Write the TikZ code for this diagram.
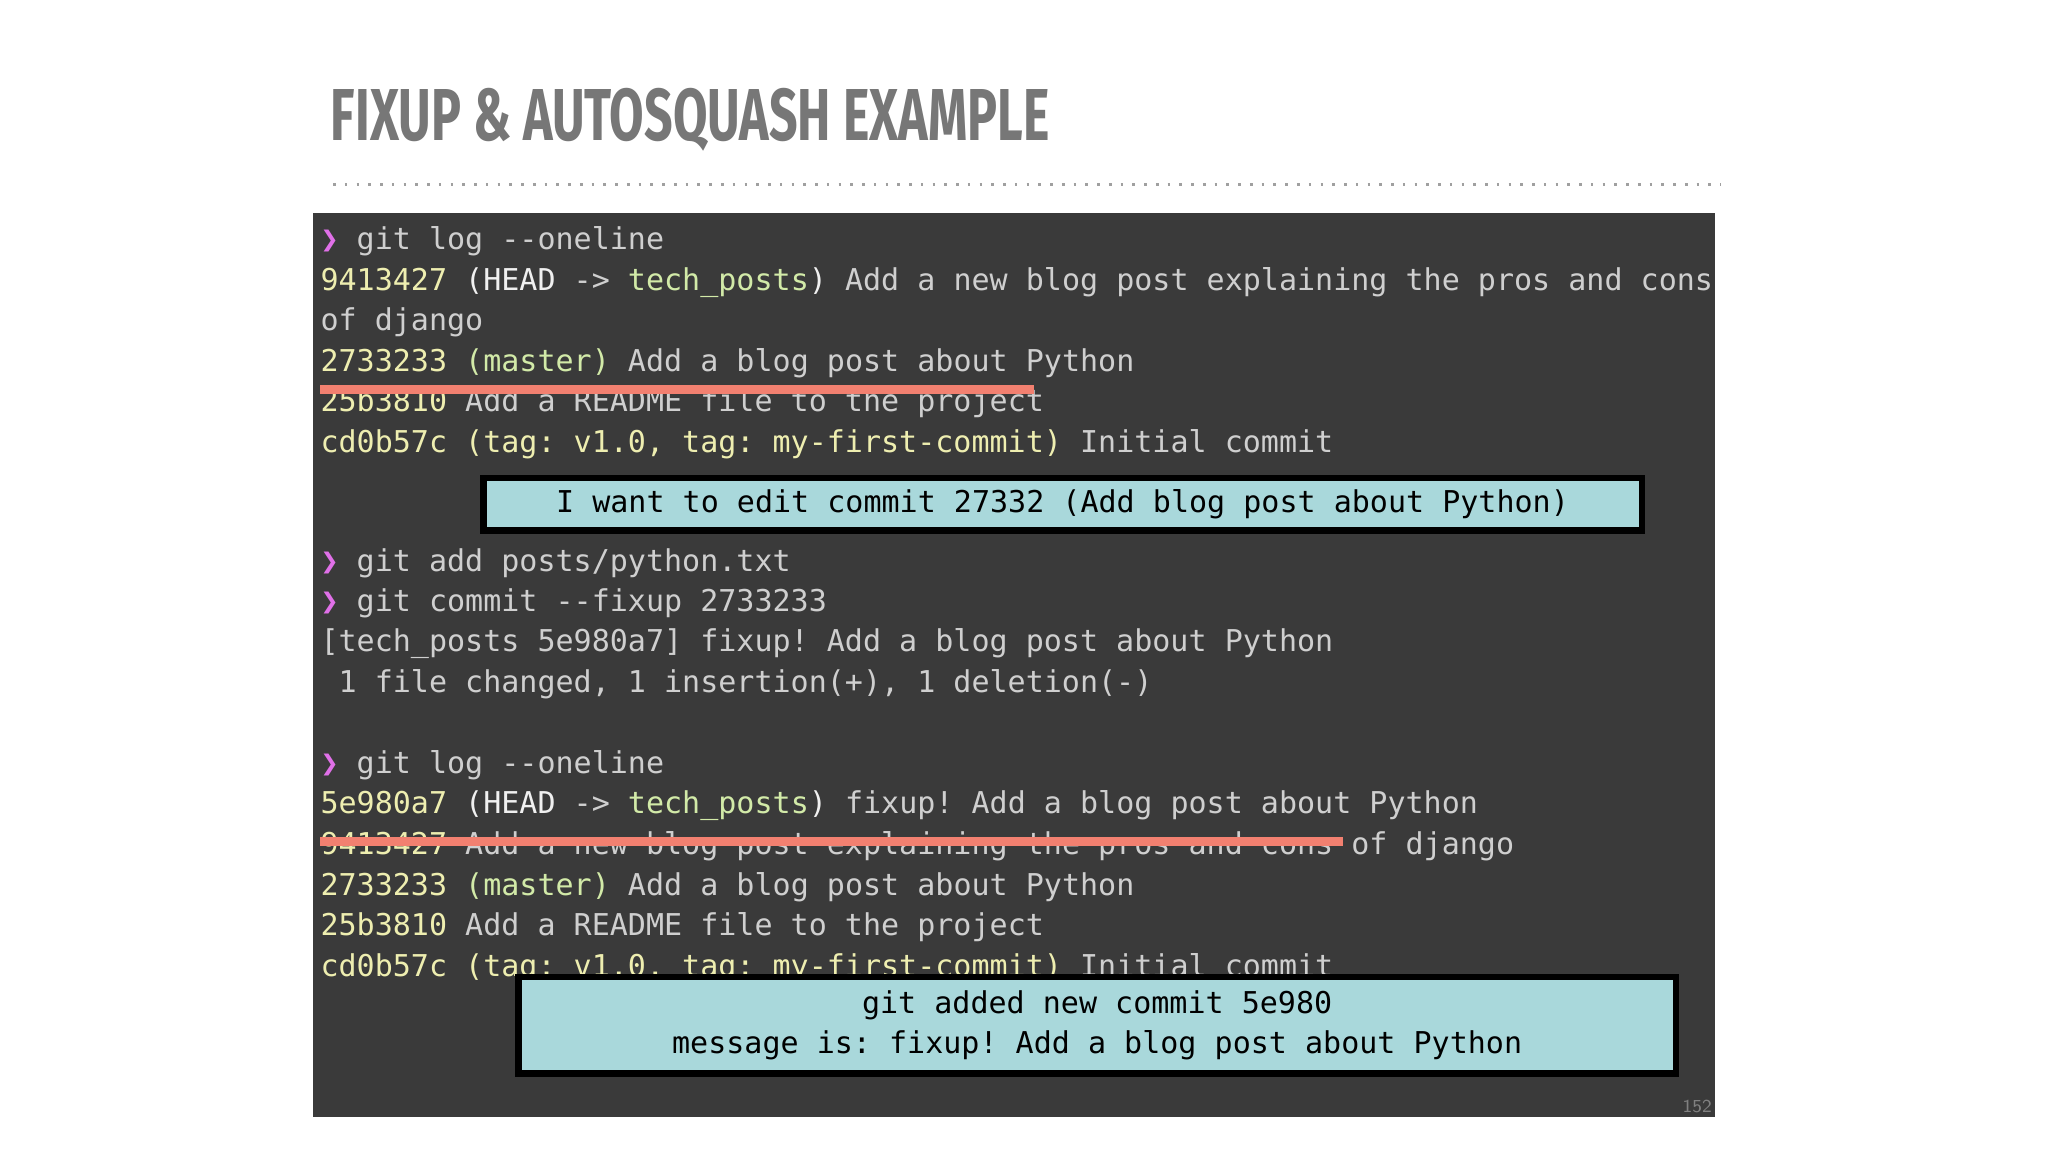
\documentclass[tikz,border=0pt]{standalone}
\usepackage{fontspec}
\setmonofont{DejaVu Sans Mono}
\newfontfamily\titlefont{Fira Sans}
\definecolor{panel}{HTML}{3A3A3A}
\definecolor{txt}{HTML}{CFCFCF}
\definecolor{hsh}{HTML}{EEEEB0}
\definecolor{grn}{HTML}{D2EAA8}
\definecolor{wht}{HTML}{F0F0F0}
\definecolor{pink}{HTML}{E070E8}
\definecolor{redl}{HTML}{F28070}
\definecolor{boxc}{HTML}{A9D8DB}
\definecolor{ttl}{HTML}{777777}
\newcommand\cH[1]{\textcolor{hsh}{#1}}
\newcommand\cG[1]{\textcolor{grn}{#1}}
\newcommand\cW[1]{\textcolor{wht}{#1}}
\newcommand\pr{\textcolor{pink}{❯}}
\begin{document}
\begin{tikzpicture}[x=0.5pt,y=-0.5pt,
  ln/.style={anchor=west,inner sep=0pt,text=txt,font=\ttfamily\fontsize{11.5}{14}\selectfont},
  note/.style={draw=black,line width=2.5pt,fill=boxc,inner sep=0pt,font=\ttfamily\fontsize{11.5}{15}\selectfont,align=center},
  strike/.style={draw=redl,line width=3.5pt}]
\useasboundingbox (0,0) rectangle (1568,882);
\fill[white] (0,0) rectangle (1568,882);
\node[anchor=west,inner sep=0pt,text=ttl] (title) at (253,92) {\resizebox{275pt}{20pt}{\titlefont\bfseries FIXUP \& AUTOSQUASH EXAMPLE}};
\draw[ttl!70,line width=1.2pt,dash pattern=on 1pt off 3.5pt] (255,141) -- (1318,141);
\fill[panel] (240,163) rectangle (1313,855);
\node[ln] (l1) at (245,185) {\pr{} git log --oneline};
\node[ln] (l2) at (245,216) {\cH{9413427} \cW{(HEAD} -> \cG{tech\_posts}\cW{)} Add a new blog post explaining the pros and cons};
\node[ln] (l3) at (245,247) {of django};
\node[ln] (l4) at (245,278) {\cH{2733233} \cG{(master)} Add a blog post about Python};
\node[ln] (l5) at (245,309) {\cH{25b3810} Add a README file to the project};
\node[ln] (l6) at (245,340) {\cH{cd0b57c (tag: v1.0, tag: my-first-commit)} Initial commit};
\coordinate (r1a) at (245,298); \coordinate (r1b) at (792,298);
\draw[strike] (r1a) -- (r1b);
\node[note,minimum width=443.5pt,minimum height=20pt] (n1) at (813.5,386) {I want to edit commit 27332 (Add blog post about Python)};
\node[ln] (l7) at (245,431) {\pr{} git add posts/python.txt};
\node[ln] (l8) at (245,462) {\pr{} git commit --fixup 2733233};
\node[ln] (l9) at (245,493) {[tech\_posts 5e980a7] fixup! Add a blog post about Python};
\node[ln] (l10) at (245,524) {\ 1 file changed, 1 insertion(+), 1 deletion(-)};
\node[ln] (l11) at (245,586) {\pr{} git log --oneline};
\node[ln] (l12) at (245,617) {\cH{5e980a7} \cW{(HEAD} -> \cG{tech\_posts}\cW{)} fixup! Add a blog post about Python};
\node[ln] (l13) at (245,648) {\cH{9413427} Add a new blog post explaining the pros and cons of django};
\node[ln] (l14) at (245,679) {\cH{2733233} \cG{(master)} Add a blog post about Python};
\node[ln] (l15) at (245,710) {\cH{25b3810} Add a README file to the project};
\node[ln] (l16) at (245,741) {\cH{cd0b57c (tag: v1.0, tag: my-first-commit)} Initial commit};
\coordinate (r2a) at (245,644); \coordinate (r2b) at (1028,644);
\draw[strike] (r2a) -- (r2b);
\node[note,minimum width=443pt,minimum height=37pt] (n2) at (840,785) {git added new commit 5e980\\message is: fixup! Add a blog post about Python};
\node[anchor=east,inner sep=0pt,text=gray,font=\sffamily\fontsize{7}{8}\selectfont] (pg) at (1311,847) {152};
\end{tikzpicture}
\end{document}
